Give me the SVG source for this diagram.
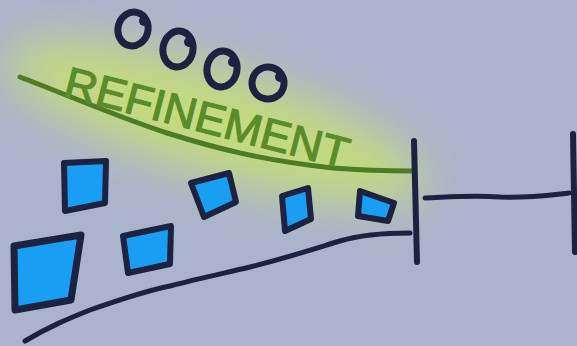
<svg xmlns="http://www.w3.org/2000/svg" width="577" height="346" viewBox="0 0 577 346">
  <defs>
    <filter id="glow" x="-30%" y="-70%" width="160%" height="240%">
      <feGaussianBlur stdDeviation="24"/>
    </filter>
    <style>
      .ink { fill: none; stroke: #1b2340; stroke-width: 5; stroke-linecap: round; stroke-linejoin: round; }
      .greenline { fill: none; stroke: #4f7a26; stroke-width: 5; stroke-linecap: round; }
      .box { fill: #1a9ef4; stroke: #1b2340; stroke-width: 6; stroke-linejoin: round; }
      .letter { fill: none; stroke: #1b2340; stroke-width: 7; }
      .dot { fill: #1b2340; }
      .label { font-family: "Liberation Sans", "DejaVu Sans", sans-serif; font-size: 44px; fill: #5a8c2a; stroke: #5a8c2a; stroke-width: 1.2; }
    </style>
  </defs>
  <rect width="577" height="346" fill="#aab4cd"/>
  <g id="glow-band">
    <ellipse cx="215" cy="122" rx="220" ry="52" transform="rotate(17 215 122)" fill="#c9e26f" opacity="0.85" filter="url(#glow)"/>
  </g>

  <g id="connectors">
    <path class="greenline" d="M20,77 C60,92 120,118 167,133 C215,148 260,160 333,168 C370,171 395,171 413,171"/>
    <path class="ink" d="M25,341 C50,326 70,318 90,310 C130,296 150,290 170,286 C200,278 225,273 250,267 C290,257 320,247 340,241 C360,235 380,233 410,233"/>
    <path class="ink" d="M425,198 C450,197 470,195 500,197 C530,198 550,195 569,193"/>
  </g>

  <g id="bar-left"><path class="ink" d="M414,141 L417,262" style="stroke-width:6"/></g>
  <g id="bar-right"><path class="ink" d="M573,134 L575,252" style="stroke-width:6"/></g>

  <g id="label-refinement">
    <text class="label" x="62" y="96" transform="rotate(14.5 62 96)" textLength="292" lengthAdjust="spacingAndGlyphs">REFINEMENT</text>
  </g>

  <g id="circle-1"><ellipse class="letter" cx="133" cy="29" rx="15" ry="17" transform="rotate(15 133 29)"/><circle class="dot" cx="144" cy="21" r="5"/></g>
  <g id="circle-2"><ellipse class="letter" cx="178" cy="49" rx="15" ry="18" transform="rotate(10 178 49)"/><circle class="dot" cx="189" cy="42" r="5"/></g>
  <g id="circle-3"><ellipse class="letter" cx="222" cy="69" rx="15" ry="18" transform="rotate(10 222 69)"/><circle class="dot" cx="233" cy="62" r="5"/></g>
  <g id="circle-4"><ellipse class="letter" cx="268" cy="83" rx="16" ry="16" transform="rotate(10 268 83)"/><circle class="dot" cx="280" cy="77" r="5"/></g>

  <g id="box-1"><path class="box" d="M64,163 L106,161 L105,203 L65,211 Z"/></g>
  <g id="box-2"><path class="box" d="M14,246 L81,235 L71,300 L15,310 Z" style="stroke-width:7"/></g>
  <g id="box-3"><path class="box" d="M123,236 L171,226 L170,264 L128,273 Z"/></g>
  <g id="box-4"><path class="box" d="M191,183 L229,173 L236,202 L204,217 Z"/></g>
  <g id="box-5"><path class="box" d="M282,196 L308,188 L311,219 L285,231 Z"/></g>
  <g id="box-6"><path class="box" d="M360,191 L394,203 L388,221 L358,216 Z"/></g>
</svg>
